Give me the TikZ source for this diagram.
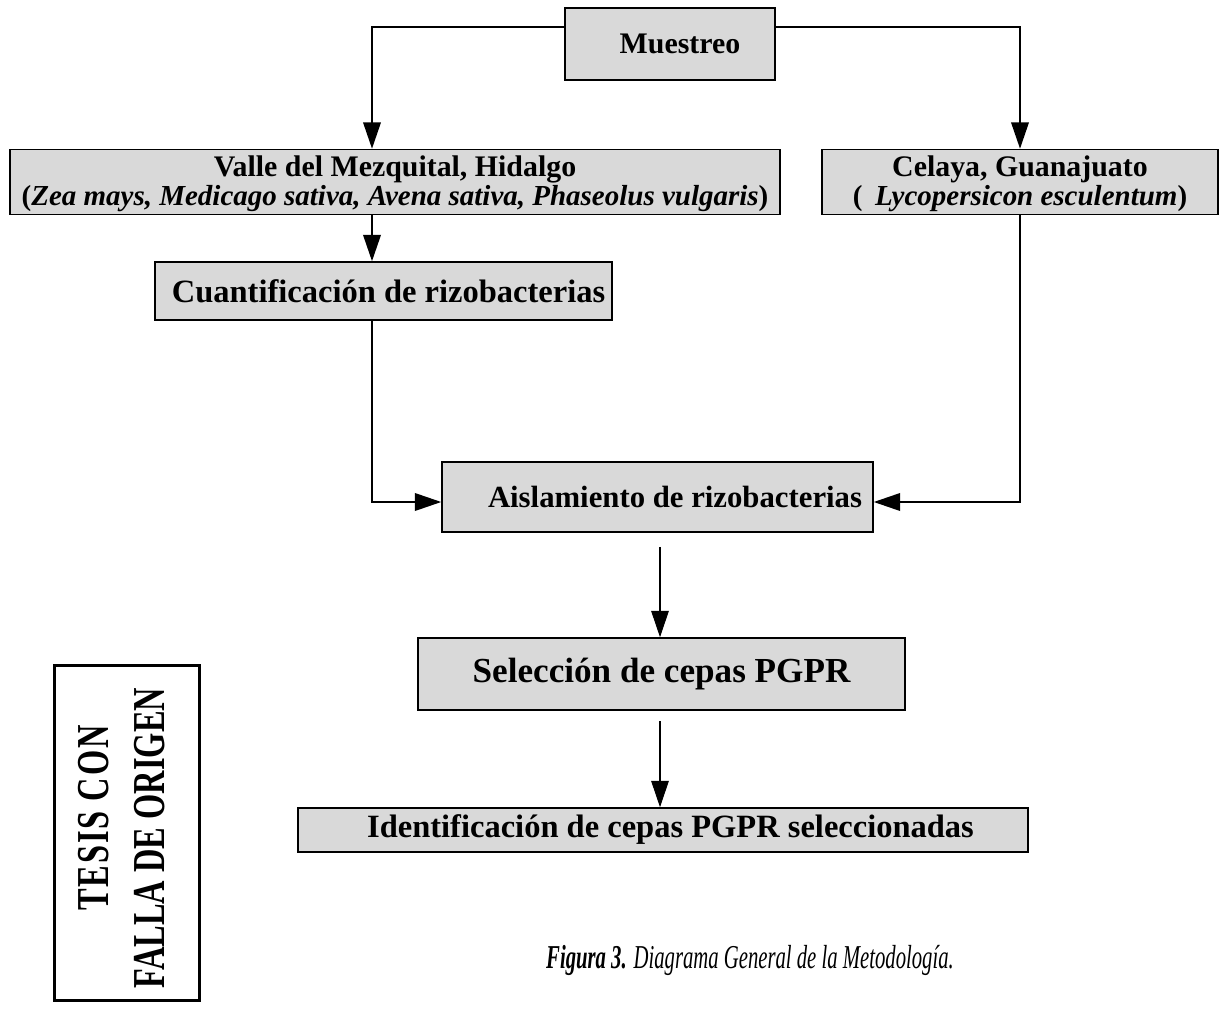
\documentclass[tikz,border=0pt]{standalone}
\usepackage{fontspec}
\setmainfont{Liberation Serif}
\usepackage{graphicx}
\usetikzlibrary{arrows.meta}
\begin{document}
\begin{tikzpicture}[x=0.02cm,y=-0.02cm,
  box/.style={draw=black, line width=0.9pt, fill=black!15, inner sep=0pt,
    font=\fontsize{17}{20}\selectfont\bfseries, align=center},
  conn/.style={line width=1pt, -{Triangle[length=15pt,width=10pt]}},
  thinconn/.style={line width=0.6pt, -{Triangle[length=15pt,width=10pt]}},
  stamptxt/.style={rotate=90, font=\fontsize{26}{30}\selectfont\bfseries}]
\useasboundingbox (0,0) rectangle (1223,1010);

\node[box, minimum width=4.2cm, minimum height=1.44cm] (mue) at (670,44) {\hspace*{0.4cm}Muestreo};
\node[box, minimum width=15.4cm, minimum height=1.3cm] (valle) at (395,182) {};
\node[font=\fontsize{16.5}{18}\selectfont\bfseries, align=center, inner sep=0pt] (vt) at ([yshift=-1pt]valle.center)
  {\fontsize{17}{17}\selectfont Valle del Mezquital, Hidalgo\\[-2pt](\textit{Zea mays, Medicago sativa, Avena sativa, Phaseolus vulgaris})};
\node[box, minimum width=7.92cm, minimum height=1.3cm] (cel) at (1020,182) {};
\node[font=\fontsize{16.5}{18}\selectfont\bfseries, align=center, inner sep=0pt] (ct) at ([yshift=-1pt]cel.center)
  {\fontsize{17}{17}\selectfont Celaya, Guanajuato\\[-2pt](\hspace{0.25cm}\textit{Lycopersicon esculentum})};
\node[box, minimum width=9.14cm, minimum height=1.16cm, font=\fontsize{18.5}{20}\selectfont\bfseries] (cua) at (383.5,291) {\hspace*{0.2cm}Cuantificación de rizobacterias};
\node[box, minimum width=8.62cm, minimum height=1.4cm, font=\fontsize{17.5}{20}\selectfont\bfseries] (ais) at (657.5,497) {\hspace*{0.7cm}Aislamiento de rizobacterias};
\node[box, minimum width=9.74cm, minimum height=1.44cm, font=\fontsize{20}{22}\selectfont\bfseries] (sel) at (661.5,674) {Selección de cepas PGPR};
\node[box, minimum width=14.6cm, minimum height=0.88cm, font=\fontsize{18.5}{20}\selectfont\bfseries] (ide) at (663,830) {\hspace*{0.3cm}Identificación de cepas PGPR seleccionadas};

\coordinate (ml) at (372,27);
\coordinate (mr) at (1020,27);
\coordinate (cy) at (0,502);

\draw[conn] (mue.west |- ml) -- (ml) -- (ml |- valle.north);
\draw[conn] (mue.east |- mr) -- (mr) -- (mr |- cel.north);
\draw[conn] (ml |- valle.south) -- (ml |- cua.north);
\draw[conn] (ml |- cua.south) -- (ml |- cy) -- (ais.west |- cy);
\draw[conn] (mr |- cel.south) -- (mr |- cy) -- (ais.east |- cy);
\draw[thinconn] ([yshift=-8pt]ais.south -| 660,0) -- (sel.north -| 660,0);
\draw[thinconn] ([yshift=-6pt]sel.south -| 660,0) -- (ide.north -| 660,0);

\node[font=\fontsize{19}{22}\selectfont\itshape] (cap) at (750,960)
  {\scalebox{0.62}[1]{\textbf{Figura 3.} Diagrama General de la Metodología.}};

\node[draw=black, line width=1.6pt, minimum width=2.9cm, minimum height=6.7cm] (stamp) at (127,833) {};
\node[stamptxt] (st1) at (94,818) {\scalebox{0.71}[1]{\addfontfeature{LetterSpace=6}TESIS CON}};
\node[stamptxt] (st2) at (150,838) {\scalebox{0.71}[1]{FALLA DE ORIGEN}};
\end{tikzpicture}
\end{document}
